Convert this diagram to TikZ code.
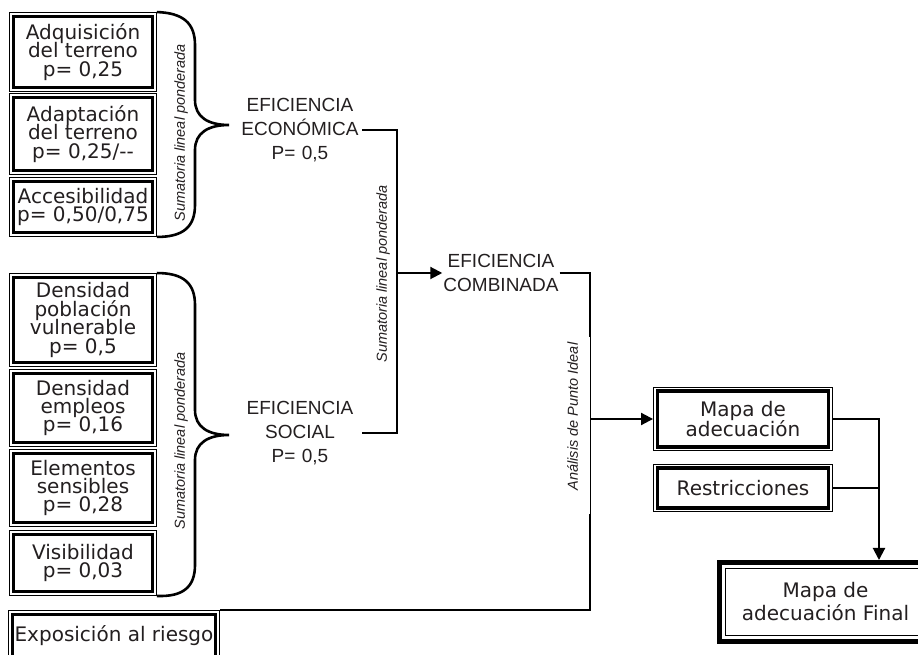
\documentclass[tikz,border=0pt]{standalone}
\usepackage{fontspec}
\setmainfont{Liberation Sans}
\newfontfamily\fctfamily{DejaVu Sans}
\usetikzlibrary{arrows.meta}
\definecolor{ink}{HTML}{231F20}
\newcommand{\fctfont}{\fctfamily\fontsize{20bp}{18.4bp}\selectfont\lineskiplimit=-\maxdimen}
\newcommand{\efffont}{\fontsize{19bp}{24bp}\selectfont\lineskiplimit=-\maxdimen}
\newcommand{\mtdfont}{\itshape\fontsize{14.5bp}{16bp}\selectfont}
\tikzset{
  factor/.style={draw,line width=3.5bp,fill=white,outer sep=4.45bp,inner sep=0pt,
    align=center,text=ink,font=\fctfont,
    preaction={draw,line width=8.9bp},preaction={draw=white,line width=6.5bp}},
  result/.style={draw,line width=1.2bp,fill=white,outer sep=8.5bp,inner sep=0pt,
    align=center,text=ink,font=\fctfont,
    preaction={draw,line width=17bp},preaction={draw=white,line width=7.4bp}},
  index/.style={inner sep=0pt,align=center,text=ink,font=\efffont},
  method/.style={inner sep=2bp,rotate=90,text=ink,font=\mtdfont},
  link/.style={black,line width=2bp},
  bracket/.style={black,line width=2.6bp},
}
\begin{document}
\begin{tikzpicture}[>={Triangle[length=12bp,width=12bp]}]
\clip (0bp,0bp) rectangle (918bp,655bp);
%%
\node (adq) at (83bp,603bp) [factor,minimum width=139bp,minimum height=71bp] {Adquisición\\del terreno\\p= 0,25};
  \node (adap) at (83bp,521bp) [factor,minimum width=139bp,minimum height=73bp] {Adaptación\\del terreno\\p= 0,25/-{}-};
  \node (acc) at (83bp,448bp) [factor,minimum width=139bp,minimum height=51bp] {Accesibilidad\\p= 0,50/0,75};
  \node (dpv) at (83bp,335bp) [factor,minimum width=139bp,minimum height=85bp] {Densidad\\población\\vulnerable\\p= 0,5};
  \node (demp) at (83bp,247bp) [factor,minimum width=139bp,minimum height=69bp] {Densidad\\empleos\\p= 0,16};
  \node (esens) at (83bp,167bp) [factor,minimum width=139bp,minimum height=69bp] {Elementos\\sensibles\\p= 0,28};
  \node (visib) at (83bp,92bp) [factor,minimum width=139bp,minimum height=57bp] {Visibilidad\\p= 0,03};
  \node (expo) at (114bp,19bp) [factor,minimum width=203bp,minimum height=43bp] {Exposición al riesgo};
  \node (econ) at (300bp,525bp) [index,text width=124bp] {EFICIENCIA\\ECONÓMICA\\P= 0,5};
  \node (soc) at (300bp,222bp) [index,text width=124bp] {EFICIENCIA\\SOCIAL\\P= 0,5};
  \node (comb) at (501bp,382bp) [index,inner sep=1bp] {EFICIENCIA\\COMBINADA};
  \node (mapa) at (743bp,236bp) [factor,minimum width=171bp,minimum height=56bp,font=\fctfont\fontsize{20bp}{20bp}\selectfont] {Mapa de\\adecuación};
  \node (restr) at (743bp,167bp) [factor,minimum width=171bp,minimum height=40bp] {Restricciones};
  \node (fin) at (825.5bp,53bp) [result,minimum width=200bp,minimum height=67bp,font=\fctfont\fontsize{20bp}{23bp}\selectfont] {Mapa de\\adecuación Final};
  \coordinate (sum) at (397bp,382bp);
  \coordinate (ideal) at (590bp,236bp);
  \coordinate (merge) at (879bp,167bp);
%
\draw [bracket] (adq.north east) .. controls (183bp,642bp) and (195bp,632bp) .. (195bp,610bp) -- (195bp,555bp)
  .. controls (195bp,538bp) and (208bp,530bp) .. (229bp,530bp) .. controls (208bp,530bp) and (195bp,522bp) .. (195bp,505bp)
  -- (195bp,450bp) .. controls (195bp,428bp) and (183bp,418bp) .. (acc.south east);
  \draw [bracket] (dpv.north east) .. controls (183bp,382bp) and (195bp,372bp) .. (195bp,350bp) -- (195bp,245bp)
  .. controls (195bp,228bp) and (208bp,220bp) .. (229bp,220bp) .. controls (208bp,220bp) and (195bp,212bp) .. (195bp,195bp)
  -- (195bp,90bp) .. controls (195bp,68bp) and (183bp,58bp) .. (visib.south east);
  \node (sumeco) at (181bp,522bp) [method] {Sumatoria lineal ponderada};
  \node (sumsoc) at (181bp,214bp) [method] {Sumatoria lineal ponderada};
%
\draw [link] (econ.east) -| (sum) |- (soc.east);
  \draw [link,->] (sum) -- (comb.west);
  \node (sumcom) at (383bp,381bp) [method] {Sumatoria lineal ponderada};
  \draw [link] (comb.east) -| (ideal) |- (expo.north east);
  \draw [link,->] (ideal) -- (mapa.west);
  \node (api) at (572.5bp,229.5bp) [method,fill=white,inner sep=0pt,minimum width=177bp,minimum height=35bp] {\hspace*{18bp}Análisis de Punto Ideal};
  \draw [link] (mapa.east) -| (merge);
  \draw [link] (restr.east) -- (merge);
  \draw [link,->] (merge) -- (merge |- fin.north);
%
\end{tikzpicture}
\end{document}
